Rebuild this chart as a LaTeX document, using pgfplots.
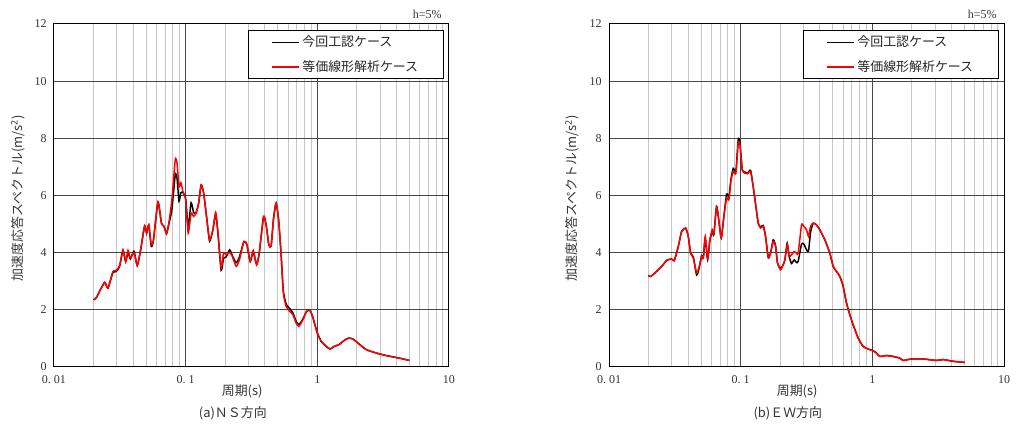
\documentclass[border=0pt]{standalone}
\usepackage{fontspec}
\setmainfont{Liberation Serif}
\newfontfamily\cjk{Noto Sans CJK JP}
\usepackage{pgfplots}
\pgfplotsset{compat=1.18}
\usepackage{pgfplotstable}

\pgfplotstableread{
T A
0.0200 2.35
0.0210 2.43
0.0225 2.70
0.0243 2.96
0.0257 2.76
0.0280 3.34
0.0297 3.38
0.0315 3.55
0.0334 4.10
0.0350 3.69
0.0365 4.08
0.0380 3.81
0.0405 4.00
0.0429 3.55
0.0455 4.10
0.0488 4.94
0.0505 4.68
0.0525 4.97
0.0548 4.28
0.0570 4.45
0.0616 5.79
0.0655 5.03
0.0685 4.92
0.0715 4.66
0.0745 5.03
0.0786 5.85
0.0833 7.25
0.0860 7.13
0.0890 6.31
0.0920 6.45
0.0953 6.14
0.1000 5.85
0.1045 4.68
0.1100 5.38
0.1150 5.27
0.1200 5.38
0.1255 5.73
0.1310 6.37
0.1370 6.08
0.1440 5.27
0.1520 4.45
0.1610 4.80
0.1690 5.41
0.1760 4.68
0.1860 3.46
0.1940 3.98
0.2030 3.93
0.2160 4.01
0.2260 3.87
0.2420 3.52
0.2560 3.75
0.2770 4.39
0.2920 4.28
0.3090 3.69
0.3260 4.08
0.3460 3.58
0.3620 3.98
0.3910 5.27
0.4100 4.92
0.4280 4.28
0.4460 4.24
0.4640 5.15
0.4860 5.73
0.5080 5.15
0.5300 3.98
0.5520 2.59
0.5800 2.12
0.6150 1.95
0.6520 1.83
0.6900 1.54
0.7240 1.42
0.7770 1.65
0.8300 1.95
0.8800 1.98
0.9200 1.77
1.0000 1.19
1.0700 0.90
1.1700 0.72
1.2500 0.63
1.3400 0.72
1.4600 0.78
1.6000 0.93
1.7300 1.01
1.8600 0.98
2.0300 0.84
2.3500 0.61
2.8000 0.49
3.3300 0.40
4.2000 0.31
5.0000 0.23
}\nsred

\pgfplotstableread{
T A
0.0200 2.35
0.0210 2.43
0.0225 2.70
0.0243 2.96
0.0257 2.76
0.0280 3.30
0.0297 3.34
0.0315 3.52
0.0334 4.08
0.0350 3.69
0.0365 4.00
0.0380 3.78
0.0405 4.05
0.0429 3.55
0.0455 4.10
0.0488 4.94
0.0505 4.68
0.0525 4.97
0.0548 4.22
0.0570 4.45
0.0616 5.75
0.0655 5.03
0.0685 4.92
0.0715 4.66
0.0745 5.00
0.0786 5.50
0.0833 6.72
0.0860 6.60
0.0890 5.80
0.0920 6.10
0.0953 6.10
0.1000 5.90
0.1045 4.90
0.1100 5.75
0.1150 5.40
0.1200 5.40
0.1255 5.73
0.1310 6.37
0.1370 6.08
0.1440 5.27
0.1520 4.40
0.1610 4.80
0.1690 5.35
0.1760 4.68
0.1860 3.38
0.1940 3.80
0.2030 3.85
0.2160 4.10
0.2260 3.90
0.2420 3.65
0.2560 3.85
0.2770 4.39
0.2920 4.28
0.3090 3.69
0.3260 4.02
0.3460 3.58
0.3620 3.98
0.3910 5.27
0.4100 4.92
0.4280 4.28
0.4460 4.24
0.4640 5.15
0.4860 5.73
0.5080 5.15
0.5300 3.98
0.5520 2.65
0.5800 2.20
0.6150 2.05
0.6520 1.90
0.6900 1.60
0.7240 1.48
0.7770 1.68
0.8300 1.95
0.8800 1.98
0.9200 1.77
1.0000 1.19
1.0700 0.90
1.1700 0.72
1.2500 0.63
1.3400 0.72
1.4600 0.78
1.6000 0.93
1.7300 1.01
1.8600 0.98
2.0300 0.84
2.3500 0.61
2.8000 0.49
3.3300 0.40
4.2000 0.31
5.0000 0.23
}\nsblack

\pgfplotstableread{
T A
0.0199 3.19
0.0208 3.17
0.0223 3.29
0.0244 3.46
0.0258 3.58
0.0274 3.73
0.0299 3.78
0.0313 3.72
0.0336 4.22
0.0356 4.74
0.0382 4.86
0.0400 4.57
0.0417 3.98
0.0437 3.81
0.0463 3.29
0.0485 3.52
0.0505 3.87
0.0520 3.81
0.0538 4.57
0.0561 3.81
0.0584 4.45
0.0608 4.80
0.0626 4.63
0.0656 5.62
0.0684 5.09
0.0712 4.51
0.0746 5.27
0.0782 5.91
0.0814 5.85
0.0843 6.49
0.0878 6.84
0.0920 6.78
0.0958 7.83
0.0987 7.77
0.1028 6.90
0.1077 6.78
0.1128 6.76
0.1189 6.84
0.1245 6.31
0.1305 5.62
0.1359 5.03
0.1416 4.86
0.1484 4.92
0.1545 4.57
0.1619 3.81
0.1686 3.98
0.1766 4.39
0.1840 4.22
0.1905 3.64
0.2009 3.40
0.2105 3.58
0.2167 3.75
0.2256 4.28
0.2337 3.87
0.2434 3.93
0.2550 4.04
0.2657 3.98
0.2735 3.98
0.2899 4.97
0.3020 4.92
0.3163 4.80
0.3275 4.57
0.3393 4.92
0.3554 5.03
0.3768 4.97
0.3993 4.80
0.4357 4.45
0.4756 3.98
0.5041 3.52
0.5343 3.34
0.5664 3.17
0.6002 2.82
0.6363 2.24
0.6745 1.83
0.7146 1.48
0.7802 1.01
0.8514 0.72
0.9290 0.63
1.0140 0.57
1.0740 0.49
1.1390 0.37
1.2800 0.40
1.4380 0.37
1.6160 0.31
1.7130 0.23
1.9820 0.28
2.4300 0.28
3.0700 0.23
3.4500 0.26
4.1000 0.20
5.0300 0.16
}\ewred

\pgfplotstableread{
T A
0.0199 3.19
0.0208 3.17
0.0223 3.29
0.0244 3.46
0.0258 3.58
0.0274 3.73
0.0299 3.78
0.0313 3.72
0.0336 4.22
0.0356 4.74
0.0382 4.86
0.0400 4.57
0.0417 3.98
0.0437 3.85
0.0463 3.22
0.0485 3.48
0.0505 3.90
0.0520 3.81
0.0538 4.50
0.0561 3.75
0.0584 4.45
0.0608 4.72
0.0626 4.63
0.0656 5.62
0.0684 5.09
0.0712 4.51
0.0746 5.27
0.0782 6.05
0.0814 5.95
0.0843 6.55
0.0878 6.95
0.0920 6.85
0.0958 7.95
0.0987 7.85
0.1028 6.90
0.1077 6.82
0.1128 6.78
0.1189 6.88
0.1245 6.31
0.1305 5.62
0.1359 5.03
0.1416 4.90
0.1484 4.95
0.1545 4.57
0.1619 3.85
0.1686 3.98
0.1766 4.45
0.1840 4.25
0.1905 3.64
0.2009 3.45
0.2105 3.58
0.2167 3.75
0.2256 4.33
0.2337 3.87
0.2434 3.62
0.2550 3.75
0.2657 3.65
0.2735 3.70
0.2899 4.30
0.3020 4.30
0.3163 4.10
0.3275 4.05
0.3393 4.70
0.3554 5.03
0.3768 4.97
0.3993 4.80
0.4357 4.45
0.4756 3.98
0.5041 3.52
0.5343 3.34
0.5664 3.17
0.6002 2.82
0.6363 2.24
0.6745 1.83
0.7146 1.48
0.7802 1.01
0.8514 0.72
0.9290 0.63
1.0140 0.57
1.0740 0.49
1.1390 0.37
1.2800 0.40
1.4380 0.37
1.6160 0.31
1.7130 0.23
1.9820 0.28
2.4300 0.28
3.0700 0.23
3.4500 0.26
4.1000 0.20
5.0300 0.16
}\ewblack

\pgfplotsset{
  legend image code/.code={\draw[#1, line width=1.1pt] (0pt,0pt) -- (20pt,0pt);},
}

\begin{document}
\begin{tikzpicture}
\useasboundingbox (0,0) rectangle (762pt,320.25pt);
\begin{axis}[name=ns, at={(40.5pt,45pt)}, anchor=south west,
    xmode=log, scale only axis,
    width=296.25pt, height=257.25pt,
    xmin=0.01, xmax=10, ymin=0, ymax=12,
    xtick={0.01,0.1,1,10},
    xticklabels={0.\ 01,0.\ 1,1,10},
    minor xtick={0.02,0.03,0.04,0.05,0.06,0.07,0.08,0.09,0.2,0.3,0.4,0.5,0.6,0.7,0.8,0.9,2,3,4,5,6,7,8,9},
    ytick={0,2,4,6,8,10,12},
    major tick length=0pt, minor tick length=0pt,
    xmajorgrids, xminorgrids, ymajorgrids,
    major grid style={color=black!72, line width=0.75pt},
    minor grid style={color=black!22, line width=0.75pt},
    axis line style={black, line width=0.75pt},
    tick label style={font=\fontsize{9}{10}\selectfont, text=black!80},
    /pgf/number format/assume math mode=true,
    xticklabel style={yshift=-3pt},
    yticklabel style={xshift=-2pt},
    legend cell align=left,
    legend style={at={(rel axis cs:1,1)}, anchor=north east,
      xshift=-3.75pt, yshift=-4.5pt, draw=black, line width=0.75pt,
      inner xsep=17pt, inner ysep=2pt, row sep=5pt,
      font=\cjk\fontsize{9.7}{11}\selectfont, text=black!85}]
\addplot[black, line width=1.1pt, smooth, tension=0.35] table[x=T,y=A] {\nsblack};
\addlegendentry{今回工認ケース}
\addplot[red, line width=1.1pt, smooth, tension=0.35] table[x=T,y=A] {\nsred};
\addlegendentry{等価線形解析ケース}
\end{axis}
\node[anchor=east, font=\fontsize{9}{10}\selectfont, text=black!80] at ([xshift=-2pt,yshift=7.5pt]ns.north east) {h=5\%};
\node[rotate=90, font=\cjk\fontsize{9.7}{11}\selectfont, text=black!80] at ([xshift=-27pt,yshift=-2pt]ns.west) {加速度応答スペクトル(m/s\textsuperscript{2})};
\node[font=\cjk\fontsize{9.7}{11}\selectfont, text=black!80] at ([xshift=-7pt,yshift=-18pt]ns.south) {周期(s)};
\node[font=\cjk\fontsize{9.7}{11}\selectfont, text=black!80] at ([xshift=-14pt,yshift=-34.5pt]ns.south) {(a)ＮＳ方向};

\begin{axis}[name=ew, at={(456.75pt,45pt)}, anchor=south west,
    xmode=log, scale only axis,
    width=296.25pt, height=257.25pt,
    xmin=0.01, xmax=10, ymin=0, ymax=12,
    xtick={0.01,0.1,1,10},
    xticklabels={0.\ 01,0.\ 1,1,10},
    minor xtick={0.02,0.03,0.04,0.05,0.06,0.07,0.08,0.09,0.2,0.3,0.4,0.5,0.6,0.7,0.8,0.9,2,3,4,5,6,7,8,9},
    ytick={0,2,4,6,8,10,12},
    major tick length=0pt, minor tick length=0pt,
    xmajorgrids, xminorgrids, ymajorgrids,
    major grid style={color=black!72, line width=0.75pt},
    minor grid style={color=black!22, line width=0.75pt},
    axis line style={black, line width=0.75pt},
    tick label style={font=\fontsize{9}{10}\selectfont, text=black!80},
    /pgf/number format/assume math mode=true,
    xticklabel style={yshift=-3pt},
    yticklabel style={xshift=-2pt},
    legend cell align=left,
    legend style={at={(rel axis cs:1,1)}, anchor=north east,
      xshift=-3.75pt, yshift=-4.5pt, draw=black, line width=0.75pt,
      inner xsep=17pt, inner ysep=2pt, row sep=5pt,
      font=\cjk\fontsize{9.7}{11}\selectfont, text=black!85}]
\addplot[black, line width=1.1pt, smooth, tension=0.35] table[x=T,y=A] {\ewblack};
\addlegendentry{今回工認ケース}
\addplot[red, line width=1.1pt, smooth, tension=0.35] table[x=T,y=A] {\ewred};
\addlegendentry{等価線形解析ケース}
\end{axis}
\node[anchor=east, font=\fontsize{9}{10}\selectfont, text=black!80] at ([xshift=-2pt,yshift=7.5pt]ew.north east) {h=5\%};
\node[rotate=90, font=\cjk\fontsize{9.7}{11}\selectfont, text=black!80] at ([xshift=-27.5pt,yshift=-2pt]ew.west) {加速度応答スペクトル(m/s\textsuperscript{2})};
\node[font=\cjk\fontsize{9.7}{11}\selectfont, text=black!80] at ([xshift=-7pt,yshift=-18pt]ew.south) {周期(s)};
\node[font=\cjk\fontsize{9.7}{11}\selectfont, text=black!80] at ([xshift=-14pt,yshift=-34.5pt]ew.south) {(b)ＥＷ方向};
\end{tikzpicture}
\end{document}
